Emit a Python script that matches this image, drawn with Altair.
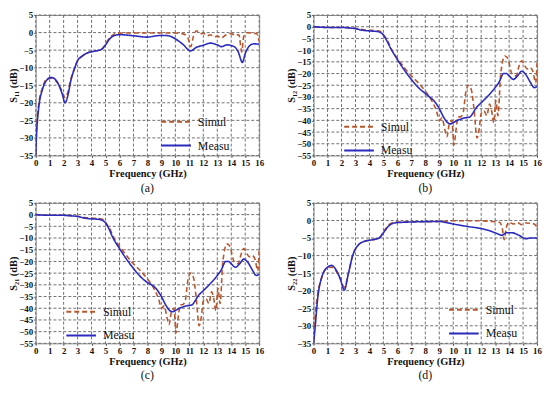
import altair as alt
import pandas as pd

# ---------------- data ----------------
# (a) S11
a_meas_f = [0, 0.05, 0.2, 0.5, 0.8, 1.1, 1.3, 1.6, 1.9, 2.1, 2.3, 2.5, 2.8, 3.0, 3.3, 3.7, 4.2, 4.7, 5.0, 5.3, 5.6, 6.0, 7.0, 8.0, 8.5, 9.0, 9.5, 10.0, 10.5, 11.1, 11.5, 12.0, 12.5, 13.0, 13.3, 13.7, 14.2, 14.5, 14.8, 15.0, 15.3, 15.6, 16.0]
a_meas_db = [-35, -30, -22, -16, -13.5, -12.8, -13, -14.5, -17.5, -20, -18, -14, -10, -8, -6.8, -5.8, -5.3, -4.8, -3.5, -1.8, -0.9, -0.6, -0.9, -1.3, -1.0, -0.8, -0.9, -1.8, -3.2, -5.2, -4.2, -3.6, -3.0, -3.5, -4.0, -3.5, -4.0, -5.5, -8.5, -6, -3.8, -3.2, -3.3]
a_sim_f = [0, 0.05, 0.2, 0.5, 0.8, 1.1, 1.3, 1.6, 1.9, 2.1, 2.3, 2.5, 2.8, 3.0, 3.3, 3.7, 4.2, 4.7, 5.0, 5.3, 5.6, 5.8, 6.5, 8.0, 9.5, 10.5, 10.9, 11.1, 11.3, 11.5, 11.8, 12.0, 12.3, 12.5, 12.8, 13.0, 13.3, 13.6, 14.0, 14.3, 14.55, 14.75, 14.9, 15.2, 15.6, 15.8, 16.0]
a_sim_db = [-35, -29, -21, -15.5, -13.2, -13, -13.3, -14.5, -16.8, -18.5, -17, -13.5, -10, -8, -6.8, -5.8, -5.3, -4.8, -3.3, -1.4, -0.5, -0.2, -0.1, -0.1, -0.1, -0.3, -1.5, -4, -1, 0.5, -0.3, -0.2, -0.9, -0.6, -1.2, -1.0, -1.5, -0.7, -0.3, -0.8, -0.6, -5.5, -1, 0, -0.3, -0.2, -2.5]

# (b) S12
b_meas_f = [0, 1, 2, 2.5, 3, 3.5, 4, 4.5, 4.8, 5.0, 5.2, 5.5, 6, 6.5, 7, 7.5, 8, 8.3, 8.6, 9.0, 9.3, 9.6, 9.8, 10.0, 10.3, 10.8, 11.2, 11.4, 11.6, 12, 12.5, 13, 13.3, 13.6, 13.8, 14.0, 14.3, 14.6, 14.9, 15.2, 15.5, 15.8, 16]
b_meas_db = [0, -0.3, -0.3, -0.5, -0.8, -1.5, -1.8, -2.0, -2.5, -3.5, -5.5, -9, -14, -18.5, -22.5, -26, -28.5, -30, -31.5, -35, -38.5, -41, -41.5, -41, -40, -39, -38.5, -37, -35, -32.5, -29.5, -26, -23.5, -20, -20, -21, -22.5, -21, -19, -20.5, -23.5, -26, -25.5]
b_sim_f = [0, 1, 2, 2.5, 3, 3.5, 4, 4.5, 4.8, 5.0, 5.3, 5.6, 6, 6.5, 7, 7.5, 8, 8.5, 8.8, 9.0, 9.2, 9.4, 9.55, 9.7, 9.9, 10.05, 10.2, 10.35, 10.5, 10.7, 10.9, 11.1, 11.3, 11.5, 11.7, 11.85, 12.0, 12.2, 12.4, 12.6, 12.75, 12.9, 13.05, 13.2, 13.4, 13.7, 13.9, 14.2, 14.5, 14.7, 14.9, 15.1, 15.3, 15.5, 15.7, 15.9, 16]
b_sim_db = [0, -0.3, -0.3, -0.4, -0.7, -1.2, -1.5, -1.7, -2, -3.5, -6, -10, -13.5, -17.5, -21, -24, -27.5, -32, -36, -40, -39, -44, -47, -42, -40, -50.5, -44, -38.5, -38.5, -37, -28, -25, -27, -36, -47.5, -44, -37, -36, -38, -33, -36, -41, -31.5, -38, -20, -12.5, -13.5, -20, -21, -17, -14.5, -16.5, -18, -17.5, -19, -24, -15.5]

# (c) S21
c_meas_f = b_meas_f
c_meas_db = [0, -0.3, -0.3, -0.5, -0.8, -1.5, -1.8, -2.0, -2.5, -3.5, -5.5, -9.5, -14.5, -19, -23, -26.5, -29, -30, -31.5, -35, -38.5, -41, -41.5, -41, -40, -39, -38.5, -37, -35, -32.5, -29.5, -26, -23.5, -20, -20, -21, -22.5, -21, -19, -20.5, -23.5, -26, -25.5]
c_sim_f = b_sim_f
c_sim_db = b_sim_db

# (d) S22
d_meas_f = [0, 0.1, 0.3, 0.6, 1.0, 1.3, 1.6, 1.9, 2.2, 2.5, 2.8, 3.2, 3.6, 4.2, 4.7, 5.0, 5.4, 5.8, 6.5, 9.0, 9.5, 10, 11, 12, 12.5, 13, 13.5, 13.8, 14.2, 14.7, 15.2, 15.5, 16]
d_meas_db = [-35, -31, -22, -16, -13.3, -12.8, -14, -16.5, -19.8, -15, -10, -7, -6, -5.5, -5, -3.5, -1.5, -0.7, -0.5, -0.3, -0.6, -1.0, -1.7, -2.3, -2.8, -3.5, -4.2, -3.5, -3.5, -4.2, -5.2, -5, -5]
d_sim_f = [0, 0.1, 0.3, 0.6, 1.0, 1.3, 1.6, 1.9, 2.2, 2.5, 2.8, 3.2, 3.6, 4.2, 4.7, 5.0, 5.4, 5.8, 6.5, 9.0, 10, 12, 12.8, 13.3, 13.5, 13.65, 13.8, 14.0, 14.3, 14.6, 14.9, 15.2, 15.5, 15.8, 16]
d_sim_db = [-35, -28, -21, -16, -13.5, -13.3, -14.3, -16.5, -19, -15, -10, -7, -6, -5.5, -5, -3.3, -1.2, -0.5, -0.4, -0.3, -0.1, -0.1, -0.3, -0.5, -2, -5.5, -2, -0.5, -1, -0.6, -1.2, -0.7, -0.8, -1, -2]

# tick values
x_ticks = list(range(17))
y_ticks_35 = list(range(-35, 6, 5))
y_ticks_55 = list(range(-55, 6, 5))

SERIES = ["Simul", "Measu"]
COLORS = ["#b8562e", "#2b2bbd"]
FONT = "Liberation Serif"
GRID = "#707070"


def frame(mf, mv, sf, sv):
    return pd.concat([
        pd.DataFrame({"f": sf, "v": sv, "s": "Simul", "o": 0}),
        pd.DataFrame({"f": mf, "v": mv, "s": "Measu", "o": 1}),
    ])


def panel(df, yticks, ytitle, caption, lx, ly):
    xs = alt.Scale(domain=[0, 16], nice=False)
    ys = alt.Scale(domain=[yticks[0], yticks[-1]], nice=False)
    xa = alt.Axis(values=x_ticks, title="Frequency (GHz)", grid=False, labelFlush=False)
    ya = alt.Axis(values=yticks, title=ytitle, grid=False)
    leg = alt.Legend(title=None, orient="none", legendX=lx, legendY=ly,
                     symbolType="stroke", symbolSize=900, symbolStrokeWidth=2,
                     labelFont=FONT, labelFontSize=12, labelColor="#111",
                     rowPadding=2, labelOffset=6)
    vgrid = alt.Chart(pd.DataFrame({"f": x_ticks})).mark_rule(
        color=GRID, strokeDash=[3, 2], strokeWidth=1
    ).encode(x=alt.X("f:Q", scale=xs, axis=xa))
    hgrid = alt.Chart(pd.DataFrame({"v": yticks})).mark_rule(
        color=GRID, strokeDash=[3, 2], strokeWidth=1
    ).encode(y=alt.Y("v:Q", scale=ys, axis=ya))
    lines = alt.Chart(df).mark_line(interpolate="monotone", strokeWidth=1.6, clip=True).encode(
        x=alt.X("f:Q", scale=xs, axis=xa),
        y=alt.Y("v:Q", scale=ys, axis=ya),
        color=alt.Color("s:N", scale=alt.Scale(domain=SERIES, range=COLORS), legend=leg),
        strokeDash=alt.StrokeDash("s:N", scale=alt.Scale(domain=SERIES, range=[[5, 3], [1, 0]]), legend=leg),
        order="o:Q",
        detail="s:N",
    )
    return alt.layer(vgrid, hgrid, lines).properties(
        width=226, height=142,
        title=alt.TitleParams(caption, orient="bottom", font=FONT, fontSize=12,
                              fontWeight="normal", color="#111", offset=4),
    )


pa = panel(frame(a_meas_f, a_meas_db, a_sim_f, a_sim_db), y_ticks_35, "S₁₁ (dB)", "(a)", 126, 92)
pb = panel(frame(b_meas_f, b_meas_db, b_sim_f, b_sim_db), y_ticks_55, "S₁₂ (dB)", "(b)", 30, 97)
pc = panel(frame(c_meas_f, c_meas_db, c_sim_f, c_sim_db), y_ticks_55, "S₂₁ (dB)", "(c)", 30, 94)
pd_ = panel(frame(d_meas_f, d_meas_db, d_sim_f, d_sim_db), y_ticks_35, "S₂₂ (dB)", "(d)", 136, 92)

row1 = alt.hconcat(pa, pb, spacing=22).resolve_legend(color="independent", strokeDash="independent")
row2 = alt.hconcat(pc, pd_, spacing=22).resolve_legend(color="independent", strokeDash="independent")

chart = alt.vconcat(row1, row2, spacing=4).resolve_legend(
    color="independent", strokeDash="independent"
).properties(padding=0).configure_view(
    stroke="#8a8a8a"
).configure_axis(
    domain=False, tickColor="#555", tickSize=2,
    labelFont=FONT, labelFontSize=9, labelFontWeight="bold", labelColor="#111",
    titleFont=FONT, titleFontSize=10.5, titleFontWeight="bold", titleColor="#111",
    labelPadding=1,
).configure_axisX(titlePadding=1).configure_axisY(titlePadding=0)

chart.save("out.html", embed_options={"renderer": "svg", "actions": False})
